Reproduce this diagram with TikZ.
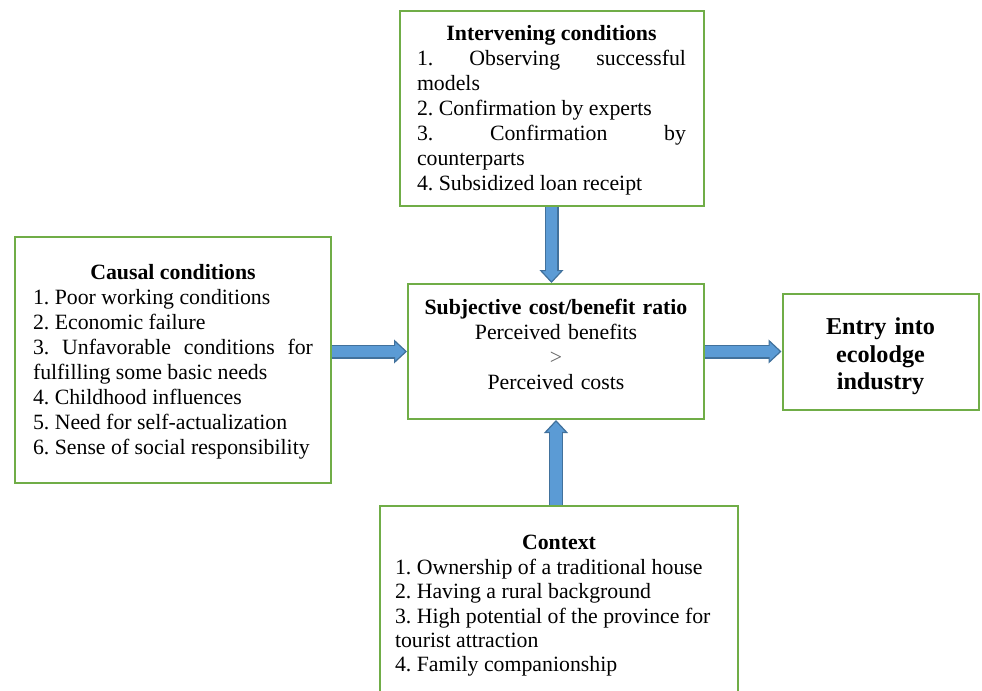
\documentclass[tikz,border=0pt]{standalone}
\usepackage{fontspec}
\setmainfont{Liberation Serif}
\usetikzlibrary{arrows.meta}
\definecolor{boxgreen}{HTML}{70AD47}
\definecolor{arrowfill}{HTML}{5B9BD5}
\definecolor{arrowedge}{HTML}{41719C}
\frenchspacing

\begin{document}
\begin{tikzpicture}[x=0.5pt,y=-0.5pt,
  cond box/.style={draw=boxgreen,line width=1pt,inner ysep=0pt,
    font=\fontsize{10.9}{12.5}\selectfont},
  list box/.style={cond box,align=justify},
  block arrow/.style={draw=arrowedge,line width=7pt,
    -{Triangle[length=6.5pt,width=12pt,line width=0.6pt,fill=arrowfill]},
    postaction={draw=arrowfill,line width=5.8pt,-,shorten >=5.7pt}}]

  \useasboundingbox (0,0) rectangle (982,691);
  \clip (0,0) rectangle (982,691);

  \node[list box,text width=134.5pt,inner xsep=8.75pt,minimum height=97.5pt] (inter) at (551.5,108.5) {\centerline{\bfseries Intervening conditions}
    1. Observing successful\linebreak models\\
    2. Confirmation by experts\\
    3. Confirmation by\linebreak counterparts\\
    4. Subsidized loan receipt\par\kern-2pt};

  \node[list box,text width=140pt,inner xsep=9pt,minimum height=123pt] (caus) at (173,360) {\centerline{\bfseries Causal conditions}
    1. Poor working conditions\\
    2. Economic failure\\
    3. Unfavorable conditions for\linebreak fulfilling some basic needs\\
    4. Childhood influences\\
    5. Need for self-actualization\\
    6. Sense of social responsibility\par\kern-2pt};

  \node[cond box,text width=140pt,align=center,inner xsep=4pt,minimum height=67.5pt] (ratio) at (556,351.5) {\textbf{Subjective cost/benefit ratio}\\
    Perceived benefits\\
    {\color{black!60}>}\\
    Perceived costs\par\kern7pt};

  \node[cond box,text width=92pt,align=center,inner xsep=3pt,font=\fontsize{12.1}{13.8}\selectfont\bfseries,minimum height=58pt] (entry) at (880.5,352) {\rule{0pt}{13pt}Entry into\\ ecolodge\\ industry};

  \node[list box,font=\fontsize{10.9}{12.2}\selectfont,text width=164pt,inner xsep=7.5pt,minimum height=97pt] (ctx) at (559,603) {\centerline{\bfseries Context}
    1. Ownership of a traditional house\\
    2. Having a rural background\\
    3. High potential of the province for\\
    tourist attraction\\
    4. Family companionship\par\kern-3pt};

  % arrows into and out of the ratio box
  \draw[block arrow] (inter.south) -- (inter.south |- ratio.north);
  \draw[block arrow] (caus.east |- ratio.west) -- (ratio.west);
  \draw[block arrow] (ratio.east) -- (ratio.east -| entry.west);
  \draw[block arrow] (ctx.north -| ratio.south) -- (ratio.south);

\end{tikzpicture}
\end{document}
